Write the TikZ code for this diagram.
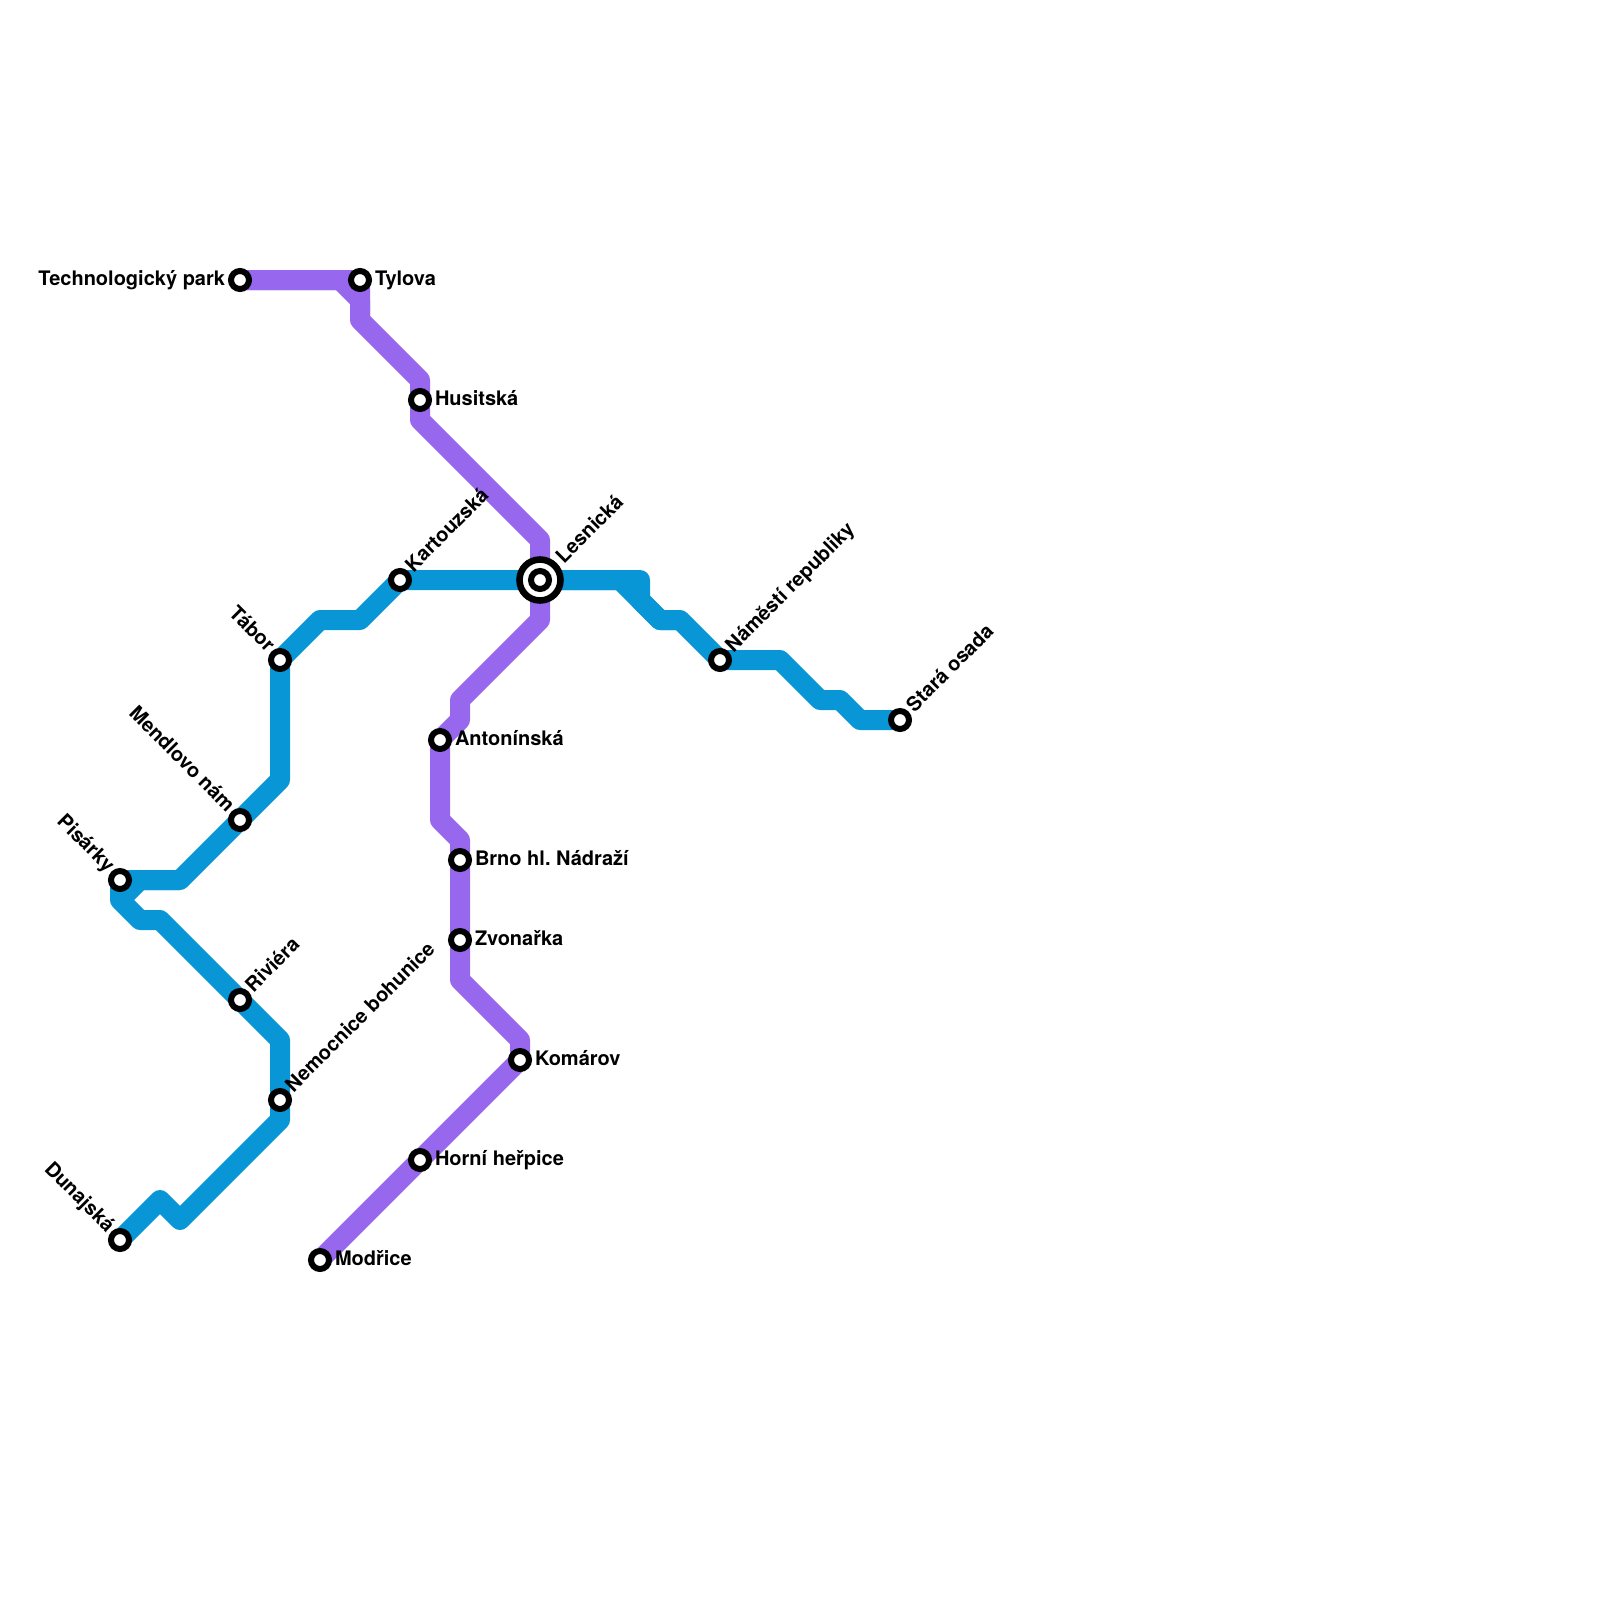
\documentclass[tikz,border=0pt]{standalone}
\usepackage{fontspec}
\setmainfont{TeX Gyre Heros}
\usetikzlibrary{backgrounds}
\definecolor{bluel}{HTML}{0896D7}
\definecolor{purpl}{HTML}{9768EE}
\tikzset{
  x=1pt,y=-1pt,
  stn/.style={circle,draw=black,fill=white,line width=6pt,minimum size=18pt,inner sep=0pt,outer sep=0pt},
  ring/.style={circle,draw=black,fill=white,line width=6.6pt,minimum size=41pt,inner sep=0pt,outer sep=0pt},
  lab/.style={font=\fontsize{20}{22}\selectfont\bfseries\frenchspacing,inner sep=0pt,outer sep=0pt,text=black},
  rt/.style={lab,anchor=base west},
  lf/.style={lab,anchor=base east},
  up/.style={lab,anchor=base west,rotate=45},
  ul/.style={lab,anchor=base east,rotate=-45},
  bluepath/.style={draw=bluel,line width=20pt,line join=round},
  purppath/.style={draw=purpl,line width=20pt,line join=round},
}
\begin{document}
\begin{tikzpicture}
\useasboundingbox (0,0) rectangle (1600,1600);
% bends
\foreach \n/\x/\y in {
 pa/340/280, pb/360/300, pc/360/320, pd/420/380, pe/420/420, pf/540/540, pg/540/620, ph/460/700, pi/460/720, pj/440/820, pk/460/840, pl/460/980, pm/520/1040,
 ba/860/720, bb/840/700, bc/820/700, bd/780/660, be/680/620, bf/660/620, bg/640/600, bh/640/580, bi/620/580,
 bj/360/620, bk/320/620, bl/280/780, bm/180/880, bn/140/880, bo/120/900, bp/140/920, bq/160/920, br/280/1040, bs/280/1120, bt/180/1220, bu/160/1200}
 {\coordinate (\n) at (\x,\y);}
% stations
\node[ring] (lesring) at (540,580) {};
\node[stn] (les) at (540,580) {};
\node[stn] (tech) at (240,280) {};
\node[stn] (tyl) at (360,280) {};
\node[stn] (hus) at (420,400) {};
\node[stn] (kar) at (400,580) {};
\node[stn] (tab) at (280,660) {};
\node[stn] (men) at (240,820) {};
\node[stn] (pis) at (120,880) {};
\node[stn] (riv) at (240,1000) {};
\node[stn] (nem) at (280,1100) {};
\node[stn] (dun) at (120,1240) {};
\node[stn] (nam) at (720,660) {};
\node[stn] (sta) at (900,720) {};
\node[stn] (ant) at (440,740) {};
\node[stn] (brn) at (460,860) {};
\node[stn] (zvo) at (460,940) {};
\node[stn] (kom) at (520,1060) {};
\node[stn] (hor) at (420,1160) {};
\node[stn] (mod) at (320,1260) {};
% lines
\begin{pgfonlayer}{background}
\draw[purppath] (tech.center) -- (tyl.center) -- (pc) -- (pd) -- (hus.center) -- (pe) -- (pf) -- (les.center) -- (pg) -- (ph) -- (pi) -- (ant.center) -- (pj) -- (pk) -- (brn.center) -- (zvo.center) -- (pl) -- (pm) -- (kom.center) -- (hor.center) -- (mod.center);
\draw[purppath] (tech.center) -- (pa) -- (pb) -- (pc);
\draw[bluepath] (sta.center) -- (ba) -- (bb) -- (bc) -- (bd) -- (nam.center) -- (be) -- (bf) -- (bi) -- (les.center) -- (kar.center) -- (bj) -- (bk) -- (tab.center) -- (bl) -- (men.center) -- (bm) -- (pis.center) -- (bo) -- (bp) -- (bq) -- (riv.center) -- (br) -- (nem.center) -- (bs) -- (bt) -- (bu) -- (dun.center);
\draw[bluepath] (be) -- (bf) -- (bg) -- (bh) -- (les.center);
\draw[bluepath] (bm) -- (bn) -- (bo);
\end{pgfonlayer}
% labels
\node[lf] (ltech) at (225,285) {Technologický park};
\node[rt] (ltyl) at (375,285) {Tylova};
\node[rt] (lhus) at (435,405) {Husitská};
\node[rt] (lant) at (455,745) {Antonínská};
\node[rt] (lbrn) at (475,865) {Brno hl. Nádraží};
\node[rt] (lzvo) at (475,945) {Zvonařka};
\node[rt] (lkom) at (535,1065) {Komárov};
\node[rt] (lhor) at (435,1165) {Horní heřpice};
\node[rt] (lmod) at (335,1265) {Modřice};
\node[up] (lkar) at (413.5,573) {Kartouzská};
\node[up] (lles) at (564,564) {Lesnická};
\node[up] (lnam) at (733.5,653) {Náměstí republiky};
\node[up] (lsta) at (914.5,713) {Stará osada};
\node[up] (lriv) at (253.5,993) {Riviéra};
\node[up] (lnem) at (293.5,1093) {Nemocnice bohunice};
\node[ul] (ltab) at (266.5,653) {Tábor};
\node[ul] (lmen) at (226.5,813) {Mendlovo nám};
\node[ul] (lpis) at (106.5,873) {Pisárky};
\node[ul] (ldun) at (106.5,1233) {Dunajská};
\end{tikzpicture}
\end{document}
